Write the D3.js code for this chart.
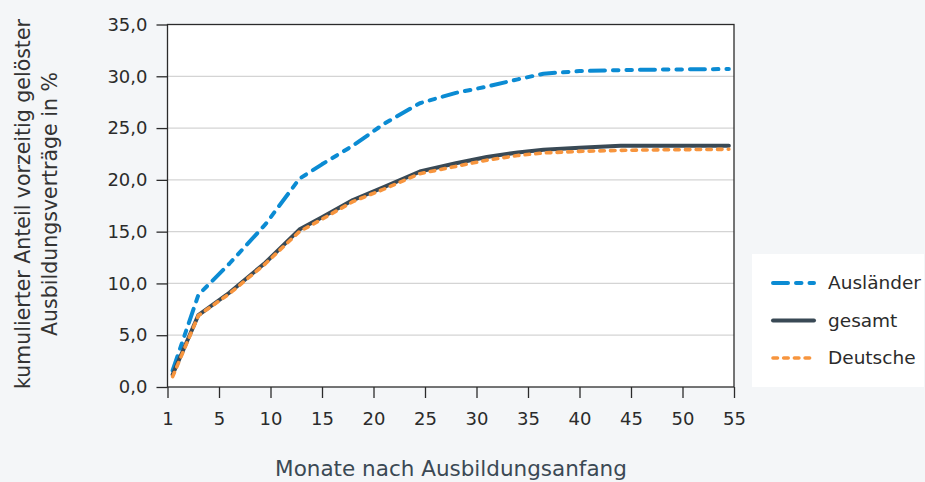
<!DOCTYPE html>
<html>
<head>
<meta charset="utf-8">
<script src="https://cdn.jsdelivr.net/npm/d3@7"></script>
<style>
  html, body { margin: 0; padding: 0; background: #f4f6f8; }
  svg { display: block; font-family: "DejaVu Sans", sans-serif; }
</style>
</head>
<body>
<svg id="chart" width="925" height="482"></svg>
<script>
// x positions of the points (axis units, tick "1" sits at 0)
var monate = [0.5, 3, 6, 9.5, 12.8, 15, 18, 21, 24.5, 28, 31, 34, 36.5, 40, 44, 48, 54.5];

var auslaender = [1.6, 8.9, 11.9, 15.7, 20.1, 21.5, 23.3, 25.4, 27.4, 28.4, 29.0, 29.7, 30.25, 30.5, 30.6, 30.65, 30.7];
var gesamt     = [1.2, 6.95, 9.1, 12.0, 15.2, 16.4, 18.05, 19.3, 20.8, 21.6, 22.2, 22.65, 22.9, 23.1, 23.3, 23.3, 23.3];
var deutsche   = [1.0, 6.9, 9.0, 11.9, 15.0, 16.2, 17.9, 19.1, 20.6, 21.3, 21.9, 22.35, 22.6, 22.75, 22.85, 22.9, 22.95];

var xTickPos = [0, 5, 10, 15, 20, 25, 30, 35, 40, 45, 50, 55];
var xTickLabels = ["1", "5", "10", "15", "20", "25", "30", "35", "40", "45", "50", "55"];
var yTicks = [0, 5, 10, 15, 20, 25, 30, 35];

var seriesNames = ["Ausländer", "gesamt", "Deutsche"];

var svg = d3.select("#chart");
var plotLeft = 167.5, plotRight = 734, plotTop = 24.5, plotBottom = 387;

var xScale = d3.scaleLinear().domain([0, 55]).range([plotLeft, plotRight]);
var yScale = d3.scaleLinear().domain([0, 35]).range([plotBottom, plotTop]);

// plot background
svg.append("rect")
  .attr("x", plotLeft).attr("y", plotTop)
  .attr("width", plotRight - plotLeft).attr("height", plotBottom - plotTop)
  .attr("fill", "#fff");

// gridlines
svg.append("g").selectAll("line")
  .data(yTicks.slice(1, -1))
  .enter().append("line")
  .attr("x1", plotLeft).attr("x2", plotRight)
  .attr("y1", function(d) { return yScale(d); })
  .attr("y2", function(d) { return yScale(d); })
  .attr("stroke", "#d4d4d4")
  .attr("stroke-width", 1.3);

var styles = {
  "Ausländer": { color: "#0b8bd3", dash: "15,8,5.5,8,5.5,8", width: 4 },
  "gesamt":    { color: "#394955", dash: null, width: 4 },
  "Deutsche":  { color: "#f7953e", dash: "4.5,6.2", width: 3.6 }
};
var values = { "Ausländer": auslaender, "gesamt": gesamt, "Deutsche": deutsche };

var line = d3.line()
  .x(function(d) { return xScale(d[0]); })
  .y(function(d) { return yScale(d[1]); });

seriesNames.forEach(function(name) {
  var s = styles[name];
  svg.append("path")
    .datum(d3.zip(monate, values[name]))
    .attr("d", line)
    .attr("fill", "none")
    .attr("stroke", s.color)
    .attr("stroke-width", s.width)
    .attr("stroke-linecap", "round")
    .attr("stroke-linejoin", "round")
    .attr("stroke-dasharray", s.dash);
});

// frame
svg.append("rect")
  .attr("x", plotLeft).attr("y", plotTop)
  .attr("width", plotRight - plotLeft).attr("height", plotBottom - plotTop)
  .attr("fill", "none")
  .attr("stroke", "#2b2b2b")
  .attr("stroke-width", 1.3);

// axes
var yAxis = d3.axisLeft(yScale)
  .tickValues(yTicks)
  .tickSize(11)
  .tickPadding(9)
  .tickFormat(function(d) { return d3.format(".1f")(d).replace(".", ","); });

var gy = svg.append("g").attr("transform", "translate(" + plotLeft + ",0)").call(yAxis);

var xAxis = d3.axisBottom(xScale)
  .tickValues(xTickPos)
  .tickSize(11)
  .tickPadding(14)
  .tickFormat(function(d, i) { return xTickLabels[i]; });

var gx = svg.append("g").attr("transform", "translate(0," + plotBottom + ")").call(xAxis);

[gx, gy].forEach(function(g) {
  g.select(".domain").remove();
  g.selectAll(".tick line").attr("stroke", "#2b2b2b").attr("stroke-width", 1.3);
  g.selectAll(".tick text")
    .attr("fill", "#2b2b2b")
    .style("font-size", "18px")
    .style("font-family", "'DejaVu Sans', sans-serif");
});

// axis titles
svg.append("text")
  .attr("x", 451).attr("y", 476)
  .attr("text-anchor", "middle")
  .attr("fill", "#3b4954")
  .style("font-size", "21.5px")
  .text("Monate nach Ausbildungsanfang");

var yTitle = svg.append("text")
  .attr("transform", "translate(0,204) rotate(-90)")
  .attr("text-anchor", "middle")
  .attr("fill", "#333")
  .style("font-size", "20.5px");
yTitle.append("tspan").attr("x", 0).attr("y", 30).text("kumulierter Anteil vorzeitig gelöster");
yTitle.append("tspan").attr("x", 0).attr("y", 57).text("Ausbildungsverträge in %");

// legend
var legend = svg.append("g");
legend.append("rect")
  .attr("x", 752).attr("y", 254)
  .attr("width", 172).attr("height", 133)
  .attr("fill", "#fff");

var legendY = d3.scalePoint().domain(seriesNames).range([283, 358]);

seriesNames.forEach(function(name) {
  var s = styles[name];
  var ly = legendY(name);
  legend.append("line")
    .attr("x1", 773).attr("x2", 814)
    .attr("y1", ly).attr("y2", ly)
    .attr("stroke", s.color)
    .attr("stroke-width", s.width)
    .attr("stroke-linecap", "round")
    .attr("stroke-dasharray", name === "Ausländer" ? "15,8,5.5,8,5.5" : s.dash);
  legend.append("text")
    .attr("x", 828).attr("y", ly)
    .attr("dy", "0.35em")
    .attr("fill", "#2b2b2b")
    .style("font-size", "18.5px")
    .text(name);
});
</script>
</body>
</html>
